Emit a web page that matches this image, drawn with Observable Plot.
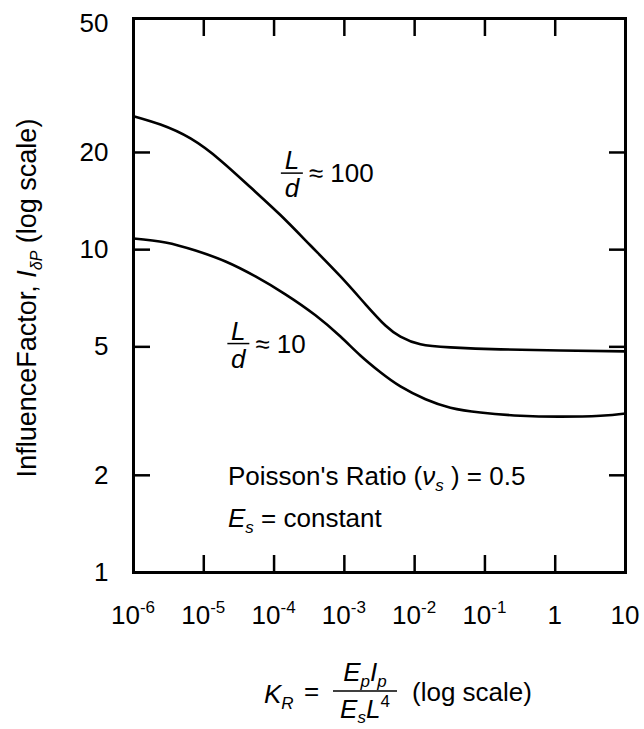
<!DOCTYPE html>
<html><head><meta charset="utf-8">
<script src="https://cdn.jsdelivr.net/npm/d3@7"></script>
<script src="https://cdn.jsdelivr.net/npm/@observablehq/plot@0.6"></script>
<style>html,body{margin:0;padding:0;background:#fff} svg{display:block}</style>
</head><body><div id="chart"></div>
<script>
// L/d ≈ 100 curve
const kr100 = [1e-6, 2.42e-6, 6.47e-6, 1.73e-5, 4.62e-5, 1.23e-4, 3.30e-4, 8.81e-4, 2.0e-3, 3.84e-3, 6.28e-3, 1.21e-2, 3.23e-2, 0.166, 1.19, 10];
const if100 = [25.9, 24.4, 22.1, 18.9, 15.6, 12.8, 10.3, 8.26, 6.77, 5.82, 5.38, 5.09, 4.98, 4.91, 4.87, 4.84];
// L/d ≈ 10 curve
const kr10 = [1e-6, 2.85e-6, 7.62e-6, 2.04e-5, 5.44e-5, 1.45e-4, 3.88e-4, 8.80e-4, 1.69e-3, 3.26e-3, 6.28e-3, 1.43e-2, 3.23e-2, 8.63e-2, 0.32, 1.19, 4.4, 10];
const if10 = [10.83, 10.53, 9.94, 9.19, 8.26, 7.27, 6.26, 5.38, 4.70, 4.17, 3.77, 3.44, 3.24, 3.13, 3.06, 3.04, 3.06, 3.11];
// axes
const xTicks = [1e-6, 1e-5, 1e-4, 1e-3, 1e-2, 1e-1, 1, 10];
const xTickBase = ["10", "10", "10", "10", "10", "10", "1", "10"];
const xTickExp = ["-6", "-5", "-4", "-3", "-2", "-1", "", ""];
const yTicks = [1, 2, 5, 10, 20, 50];
// curve label anchors (K_R, I) and ratio text
const labelKR = [1.27e-4, 2.2e-5];
const labelI = [17.2, 5.1];
const labelRatio = ["100", "10"];

const FONT = "'Liberation Sans', Arial, Helvetica, sans-serif";
const d100 = kr100.map((k, i) => ({kr: k, f: if100[i]}));
const d10 = kr10.map((k, i) => ({kr: k, f: if10[i]}));
const innerX = xTicks.slice(1, -1);
const innerY = yTicks.slice(1, -1);

const plot = Plot.plot({
  width: 644, height: 729,
  marginLeft: 133, marginRight: 19, marginTop: 18, marginBottom: 157,
  style: {fontFamily: FONT, fontSize: "26px", color: "#000", background: "#fff"},
  x: {type: "log", domain: [1e-6, 10]},
  y: {type: "log", domain: [1, 52]},
  marks: [
    Plot.axisX({anchor: "bottom", ticks: innerX, tickSize: -17, strokeWidth: 2.5, fill: "none", label: null}),
    Plot.axisX({anchor: "top", ticks: innerX, tickSize: -17, strokeWidth: 2.5, fill: "none", label: null}),
    Plot.axisY({anchor: "left", ticks: innerY, tickSize: -17, strokeWidth: 2.5, fill: "none", label: null}),
    Plot.axisY({anchor: "right", ticks: innerY, tickSize: -17, strokeWidth: 2.5, fill: "none", label: null}),
    Plot.axisY({anchor: "left", ticks: yTicks, tickSize: 0, tickPadding: 25, tickFormat: d => String(d), fontSize: 26, fill: "#000", label: null}),
    Plot.frame({stroke: "#000", strokeWidth: 3}),
    Plot.line(d100, {x: "kr", y: "f", curve: "natural", stroke: "#000", strokeWidth: 2.6}),
    Plot.line(d10, {x: "kr", y: "f", curve: "natural", stroke: "#000", strokeWidth: 2.6})
  ]
});
document.getElementById("chart").appendChild(plot);

const svg = d3.select(plot);
const sx = plot.scale("x"), sy = plot.scale("y");
const layer = () => svg.append("g").attr("font-family", FONT).attr("fill", "#000").attr("text-anchor", "start").attr("font-size", 26);

// x tick labels with superscripts
const xl = layer();
xTicks.forEach((t, i) => {
  const tx = xl.append("text").attr("x", sx.apply(t)).attr("y", 624).attr("text-anchor", "middle");
  tx.append("tspan").text(xTickBase[i]);
  if (xTickExp[i]) tx.append("tspan").attr("font-size", 17).attr("dy", -11).text(xTickExp[i]);
});

// y axis title
const yt = layer().append("text").attr("font-size", 27)
  .attr("text-anchor", "middle").attr("transform", "translate(36,298) rotate(-90)");
yt.append("tspan").text("InfluenceFactor, ");
yt.append("tspan").attr("font-style", "italic").text("I");
yt.append("tspan").attr("font-style", "italic").attr("font-size", 16).attr("dy", 6).text("δP");
yt.append("tspan").attr("dy", -6).text(" (log scale)");

// curve labels: L/d ≈ ...
labelRatio.forEach((r, i) => {
  const x0 = sx.apply(labelKR[i]), y0 = sy.apply(labelI[i]);
  const g = layer();
  g.append("text").attr("x", x0 + 11).attr("y", y0 - 4).attr("text-anchor", "middle").attr("font-style", "italic").text("L");
  g.append("line").attr("x1", x0).attr("x2", x0 + 22).attr("y1", y0).attr("y2", y0).attr("stroke", "#000").attr("stroke-width", 1.5);
  g.append("text").attr("x", x0 + 11).attr("y", y0 + 24).attr("text-anchor", "middle").attr("font-style", "italic").text("d");
  g.append("text").attr("x", x0 + 28).attr("y", y0 + 9).text("≈ " + r);
});

// annotation
const an = layer().attr("font-size", 26);
const a1 = an.append("text").attr("x", 228).attr("y", 485);
a1.append("tspan").text("Poisson's Ratio (");
a1.append("tspan").attr("font-style", "italic").text("ν");
a1.append("tspan").attr("font-style", "italic").attr("font-size", 17).attr("dy", 6).text("s");
a1.append("tspan").attr("dy", -6).text(" ) = 0.5");
const a2 = an.append("text").attr("x", 228).attr("y", 527);
a2.append("tspan").attr("font-style", "italic").text("E");
a2.append("tspan").attr("font-style", "italic").attr("font-size", 17).attr("dy", 6).text("s");
a2.append("tspan").attr("dy", -6).text(" = constant");

// x axis title: K_R = E_p I_p / (E_s L^4) (log scale)
const xt = layer();
const k = xt.append("text").attr("x", 264).attr("y", 703);
k.append("tspan").attr("font-style", "italic").text("K");
k.append("tspan").attr("font-style", "italic").attr("font-size", 17).attr("dy", 6).text("R");
xt.append("text").attr("x", 304).attr("y", 700).text("=");
xt.append("line").attr("x1", 333).attr("x2", 397).attr("y1", 691).attr("y2", 691).attr("stroke", "#000").attr("stroke-width", 1.5);
const num = xt.append("text").attr("x", 365).attr("y", 681).attr("text-anchor", "middle");
num.append("tspan").attr("font-style", "italic").text("E");
num.append("tspan").attr("font-style", "italic").attr("font-size", 17).attr("dy", 6).text("p");
num.append("tspan").attr("font-style", "italic").attr("dy", -6).text("I");
num.append("tspan").attr("font-style", "italic").attr("font-size", 17).attr("dy", 6).text("p");
const den = xt.append("text").attr("x", 365).attr("y", 718).attr("text-anchor", "middle");
den.append("tspan").attr("font-style", "italic").text("E");
den.append("tspan").attr("font-style", "italic").attr("font-size", 17).attr("dy", 5).text("s");
den.append("tspan").attr("font-style", "italic").attr("dy", -5).text("L");
den.append("tspan").attr("font-size", 17).attr("dy", -11).text("4");
xt.append("text").attr("x", 412).attr("y", 701).text("(log scale)");
</script>
</body></html>
